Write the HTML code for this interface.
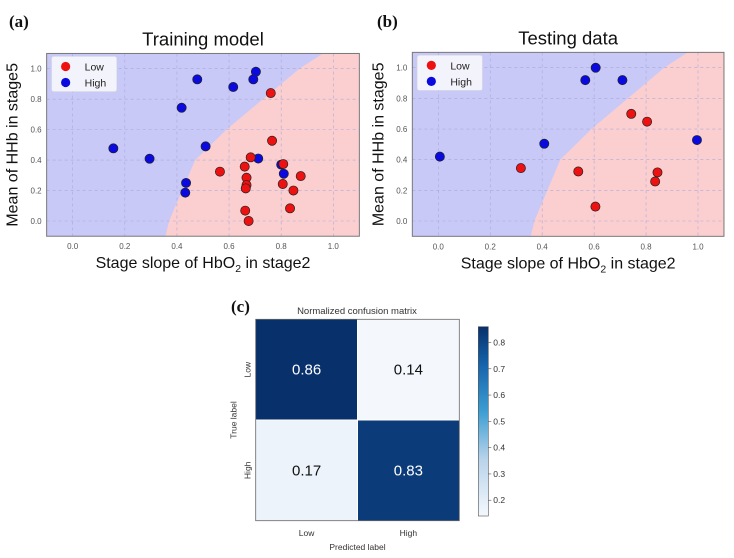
<!DOCTYPE html>
<html><head><meta charset="utf-8">
<style>
body{margin:0;background:#fff;width:734px;height:558px;overflow:hidden;font-family:"Liberation Sans",sans-serif}
svg{position:absolute;left:0;top:0}
</style></head>
<body>
<svg id="svg" width="734" height="558" xmlns="http://www.w3.org/2000/svg"></svg>
<script>
// ---- data ----
const trainHighX=[0.156,0.295,0.418,0.478,0.51,0.435,0.432,0.616,0.703,0.693,0.712,0.80,0.81];
const trainHighY=[0.477,0.409,0.744,0.93,0.49,0.25,0.186,0.88,0.98,0.93,0.41,0.37,0.31];
const trainLowX=[0.76,0.765,0.683,0.565,0.66,0.667,0.667,0.664,0.662,0.675,0.806,0.808,0.847,0.875,0.834];
const trainLowY=[0.84,0.527,0.418,0.324,0.357,0.284,0.236,0.214,0.068,0.0,0.243,0.374,0.2,0.295,0.083];
const testHighX=[0.006,0.408,0.566,0.606,0.709,0.996];
const testHighY=[0.42,0.504,0.919,1.0,0.919,0.528];
const testLowX=[0.318,0.539,0.605,0.743,0.804,0.844,0.835];
const testLowY=[0.345,0.323,0.094,0.699,0.648,0.317,0.258];
const boundaryY=[-0.1,0.0,0.2,0.4,0.6,0.8,1.0,1.1];
const boundaryX=[0.356,0.37,0.42,0.47,0.59,0.73,0.87,0.96];
const ticks=[0.0,0.2,0.4,0.6,0.8,1.0];
const cmRows=["Low","High"];
const cmCols=["Low","High"];
const cmValues=[[0.86,0.14],[0.17,0.83]];
const cbTicks=[0.2,0.3,0.4,0.5,0.6,0.7,0.8];

const NS="http://www.w3.org/2000/svg";
const svg=document.getElementById('svg');
function el(tag,attrs,parent,text){const e=document.createElementNS(NS,tag);for(const k in attrs)e.setAttribute(k,attrs[k]);if(text!==undefined)e.textContent=text;(parent||svg).appendChild(e);return e;}

function scatterPanel(cfg){
  const g=el('g',{});
  
  
  const sx=v=>cfg.x0+(v)*(cfg.x1-cfg.x0);
  const sy=v=>cfg.y0+(v)*(cfg.y1-cfg.y0);
  const L=sx(-0.1),R=sx(1.1),T=sy(1.1),B=sy(-0.1);
  const bg=el('rect',{x:L,y:T,width:R-L,height:B-T,fill:'#c9c9f7'},g);
  
  let pts=boundaryX.map((bx,i)=>sx(bx)+','+sy(boundaryY[i])).join(' ');
  const poly=el('polygon',{points:pts+' '+R+','+T+' '+R+','+B,fill:'#fbcfd0'},g);
  
  ticks.forEach(t=>{
    el('line',{x1:sx(t),x2:sx(t),y1:T,y2:B,stroke:'#a9a9d8','stroke-dasharray':'3,3','stroke-width':0.6},g);
    el('line',{x1:L,x2:R,y1:sy(t),y2:sy(t),stroke:'#a9a9d8','stroke-dasharray':'3,3','stroke-width':0.6},g);
    const xt=el('text',{x:sx(t),y:B+13,'font-size':8,fill:'#555','text-anchor':'middle'},g,t.toFixed(1));
    
    const yt=el('text',{x:L-5,y:sy(t)+3,'font-size':8,fill:'#555','text-anchor':'end'},g,t.toFixed(1));
    
  });
  el('rect',{x:L,y:T,width:R-L,height:B-T,fill:'none',stroke:'#777','stroke-width':1},g);
  function dots(xs,ys,col,nm){xs.forEach((x,i)=>{const c=el('circle',{cx:sx(x),cy:sy(ys[i]),r:4.6,fill:col,stroke:'#222','stroke-width':0.7},g);
    });}
  dots(cfg.hx,cfg.hy,'#0a0ae0','point-high');
  dots(cfg.lx,cfg.ly,'#ee1111','point-low');
  const lg=el('g',{},g);
  el('rect',{x:L+5,y:T+3,width:65,height:35,fill:'#f3f3fb',stroke:'#ddd','stroke-width':0.5,rx:2},lg);
  el('circle',{cx:L+19,cy:T+13,r:4.6,fill:'#ee1111'},lg);
  el('text',{x:L+38,y:T+17,'font-size':10.5,fill:'#222'},lg,'Low');
  el('circle',{cx:L+19,cy:T+29,r:4.6,fill:'#0a0ae0'},lg);
  el('text',{x:L+38,y:T+33,'font-size':10.5,fill:'#222'},lg,'High');
  const tl=el('text',{x:(L+R)/2,y:T-8,'font-size':18.5,fill:'#111','text-anchor':'middle'},g,cfg.title);
  
  const xl=el('text',{x:(L+R)/2,y:B+32,'font-size':16,fill:'#111','text-anchor':'middle'},g);
  
  xl.innerHTML='Stage slope of HbO<tspan font-size="10.5" dy="4">2</tspan><tspan dy="-4"> in stage2</tspan>';
  const yl=el('text',{x:0,y:0,'font-size':16,fill:'#111','text-anchor':'middle',transform:`translate(${L-29},${(T+B)/2}) rotate(-90)`},g,'Mean of HHb in stage5');
  
  const pl=el('text',{x:cfg.lx0,y:27,'font-size':17,fill:'#111','font-family':'Liberation Serif, serif','font-weight':'bold'},g,cfg.label);
  
}
scatterPanel({name:'training-model-chart',title:'Training model',label:'(a)',lx0:9,x0:72.7,x1:333.3,y0:221,y1:68.7,hx:trainHighX,hy:trainHighY,lx:trainLowX,ly:trainLowY});
scatterPanel({name:'testing-data-chart',title:'Testing data',label:'(b)',lx0:377,x0:438.3,x1:698,y0:221,y1:67.7,hx:testHighX,hy:testHighY,lx:testLowX,ly:testLowY});

// ---- confusion matrix ----
(function(){
  const g=el('g',{});
  const X0=255.7,Y0=319.3,W=203.6,H=201.4,cw=W/2,ch=H/2;
  const vmin=0.14,vmax=0.86;
  const stops=[[0,[244,248,253]],[0.3,[184,211,234]],[0.55,[61,158,211]],[0.8,[22,99,171]],[1,[8,48,107]]];
  function col(v){const t=Math.max(0,Math.min(1,(v-vmin)/(vmax-vmin)));
    for(let k=1;k<stops.length;k++){if(t<=stops[k][0]){const a=stops[k-1],b=stops[k];const f=(t-a[0])/(b[0]-a[0]);
      return 'rgb('+a[1].map((c,i)=>Math.round(c+(b[1][i]-c)*f)).join(',')+')';}}
    return 'rgb(8,48,107)';}
  cmValues.forEach((row,i)=>row.forEach((v,j)=>{
    const r=el('rect',{x:X0+j*cw,y:Y0+i*ch,width:cw,height:ch,fill:col(v)},g);
    
    const t=el('text',{x:X0+j*cw+cw/2,y:Y0+i*ch+ch/2+5,'font-size':15,'text-anchor':'middle',fill:v>0.5?'#fff':'#111'},g,v.toFixed(2));
    
  }));
  el('line',{x1:X0+cw,x2:X0+cw,y1:Y0,y2:Y0+H,stroke:'#fff','stroke-width':1},g);
  el('line',{x1:X0,x2:X0+W,y1:Y0+ch,y2:Y0+ch,stroke:'#fff','stroke-width':1},g);
  el('rect',{x:X0,y:Y0,width:W,height:H,fill:'none',stroke:'#666','stroke-width':0.8},g);
  cmCols.forEach((c,j)=>{const t=el('text',{x:X0+j*cw+cw/2,y:536,'font-size':8.5,'text-anchor':'middle',fill:'#333'},g,c);
    });
  cmRows.forEach((c,i)=>{const y=Y0+i*ch+ch/2;const t=el('text',{x:0,y:0,'font-size':8.5,'text-anchor':'middle',fill:'#333',transform:`translate(${X0-5},${y}) rotate(-90)`},g,c);
    });
  const xt=el('text',{x:X0+W/2,y:550,'font-size':8.5,'text-anchor':'middle',fill:'#333'},g,'Predicted label');
  
  const yt=el('text',{x:0,y:0,'font-size':8.5,'text-anchor':'middle',fill:'#333',transform:`translate(${X0-19},${Y0+H/2}) rotate(-90)`},g,'True label');
  
  const tt=el('text',{x:357,y:314,'font-size':9.5,'text-anchor':'middle',fill:'#333'},g,'Normalized confusion matrix');
  
  const pl=el('text',{x:231,y:312,'font-size':17,fill:'#111','font-family':'Liberation Serif, serif','font-weight':'bold'},g,'(c)');
  
  const cb=el('g',{},g);
  const defs=el('defs',{},cb);
  const lgd=el('linearGradient',{id:'cbg',x1:0,y1:1,x2:0,y2:0},defs);
  stops.forEach(s=>el('stop',{offset:String(s[0]),'stop-color':'rgb('+s[1].join(',')+')'},lgd));
  const CT=326.7,CB=516,CX=478.3,CW=10;
  el('rect',{x:CX,y:CT,width:CW,height:CB-CT,fill:'url(#cbg)',stroke:'#555','stroke-width':0.6},cb);
  const cy=v=>CB-(v-vmin)/(vmax-vmin)*(CB-CT);
  cbTicks.forEach(t=>{el('line',{x1:CX+CW,x2:CX+CW+3,y1:cy(t),y2:cy(t),stroke:'#555','stroke-width':0.6},cb);
    const tx=el('text',{x:CX+CW+5,y:cy(t)+3,'font-size':8.5,fill:'#333'},cb,t.toFixed(1));
    });
})();
</script>
</body></html>
